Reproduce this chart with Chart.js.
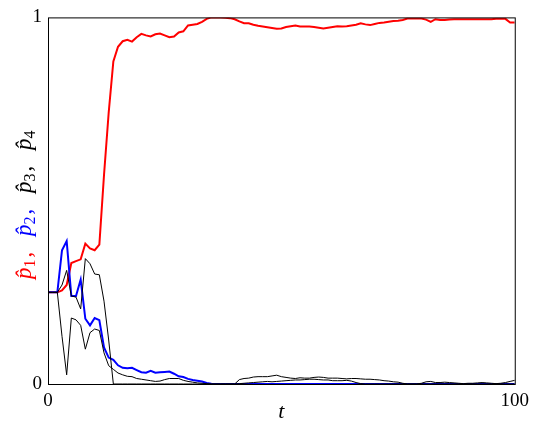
<!DOCTYPE html>
<html>
<head>
<meta charset="utf-8">
<script src="https://cdn.jsdelivr.net/npm/chart.js@4.4.1/dist/chart.umd.min.js"></script>
<style>
  html, body { margin: 0; padding: 0; background: #fff; }
  #wrap { width: 535px; height: 423px; }
</style>
</head>
<body>
<div id="wrap"><canvas id="chart" width="535" height="423"></canvas></div>
<script>
// estimated probabilities p1..p4 at t = 0..100
const p1 = [
  0.25, 0.25, 0.25, 0.255, 0.27, 0.33, 0.335, 0.34, 0.383, 0.37,
  0.365, 0.38, 0.57, 0.74, 0.88, 0.92, 0.935, 0.939, 0.934, 0.946,
  0.955, 0.951, 0.948, 0.954, 0.956, 0.951, 0.946, 0.948, 0.959, 0.962,
  0.978, 0.980, 0.982, 0.988, 0.996, 1.0, 1.0, 1.0, 0.999, 0.998,
  0.995, 0.989, 0.984, 0.984, 0.980, 0.977, 0.975, 0.973, 0.971, 0.969,
  0.970, 0.974, 0.976, 0.978, 0.975, 0.975, 0.975, 0.974, 0.972, 0.970,
  0.972, 0.974, 0.976, 0.975, 0.976, 0.978, 0.980, 0.984, 0.981, 0.979,
  0.982, 0.985, 0.986, 0.988, 0.990, 0.991, 0.993, 0.997, 0.997, 0.997,
  0.997, 0.994, 0.988, 0.995, 0.993, 0.993, 0.994, 0.995, 0.995, 0.995,
  0.995, 0.995, 0.995, 0.995, 0.995, 0.995, 0.996, 0.996, 0.996, 0.986,
  0.986
];
const p2 = [
  0.25, 0.25, 0.25, 0.365, 0.39, 0.24, 0.24, 0.285, 0.178, 0.16,
  0.18, 0.174, 0.10, 0.072, 0.066, 0.051, 0.044, 0.043, 0.044, 0.038,
  0.032, 0.031, 0.036, 0.031, 0.032, 0.033, 0.034, 0.028, 0.021, 0.019,
  0.014, 0.011, 0.009, 0.007, 0.003, 0.001, 0, 0, 0, 0,
  0, 0, 0, 0, 0, 0, 0, 0, 0, 0,
  0, 0, 0, 0, 0, 0, 0, 0, 0, 0,
  0, 0, 0, 0, 0, 0, 0, 0, 0, 0,
  0, 0, 0, 0, 0, 0, 0, 0, 0, 0,
  0, 0, 0, 0, 0, 0, 0, 0, 0, 0,
  0, 0, 0, 0, 0, 0, 0, 0, 0, 0,
  0
];
const p3 = [
  0.25, 0.25, 0.25, 0.13, 0.025, 0.18, 0.175, 0.16, 0.095, 0.14,
  0.15, 0.146, 0.085, 0.05, 0.04, 0.03, 0.025, 0.021, 0.02, 0.015,
  0.013, 0.011, 0.009, 0.007, 0.008, 0.012, 0.015, 0.015, 0.015, 0.01,
  0.007, 0.005, 0.003, 0.002, 0.001, 0, 0, 0, 0, 0,
  0, 0.001, 0.002, 0.003, 0.004, 0.005, 0.006, 0.007, 0.006, 0.007,
  0.008, 0.009, 0.010, 0.011, 0.011, 0.012, 0.013, 0.013, 0.012, 0.011,
  0.011, 0.009, 0.009, 0.009, 0.010, 0.008, 0.004, 0.001, 0, 0,
  0, 0, 0, 0, 0, 0, 0, 0, 0, 0,
  0, 0, 0, 0, 0, 0, 0, 0, 0, 0,
  0, 0, 0, 0, 0, 0, 0, 0, 0, 0,
  0
];
const p4 = [
  0.25, 0.25, 0.25, 0.27, 0.31, 0.24, 0.237, 0.205, 0.342, 0.328,
  0.30, 0.298, 0.226, 0.12, 0.0, 0, 0, 0, 0, 0,
  0, 0, 0, 0, 0, 0, 0, 0, 0, 0,
  0, 0, 0, 0, 0, 0, 0, 0, 0, 0,
  0, 0.012, 0.015, 0.016, 0.019, 0.020, 0.020, 0.020, 0.022, 0.024,
  0.020, 0.018, 0.016, 0.015, 0.017, 0.016, 0.016, 0.018, 0.019, 0.018,
  0.016, 0.016, 0.016, 0.015, 0.014, 0.015, 0.015, 0.014, 0.013, 0.013,
  0.012, 0.011, 0.009, 0.008, 0.006, 0.005, 0.002, 0, 0, 0,
  0.002, 0.006, 0.007, 0.004, 0.004, 0.005, 0.004, 0.003, 0.002, 0.001,
  0.002, 0.002, 0.003, 0.004, 0.003, 0.002, 0.001, 0.002, 0.004, 0.007,
  0.010
];
const xTicks = [0, 100];
const yTicks = [0, 1];

const serif = "'Liberation Serif', 'DejaVu Serif', serif";

// pair each value with its step index
const pts = (arr) => arr.map((v, i) => ({ x: i, y: v }));

// frame + axis titles (y title has one colour per symbol)
const decorations = {
  id: 'decorations',
  afterDraw(chart) {
    const { ctx, chartArea: a } = chart;
    ctx.save();
    ctx.strokeStyle = '#000';
    ctx.lineWidth = 1;
    ctx.strokeRect(a.left + 0.5, a.top + 0.5, a.right - a.left, a.bottom - a.top);

    ctx.fillStyle = '#000';
    ctx.font = 'italic 22px ' + serif;
    ctx.textAlign = 'center';
    ctx.textBaseline = 'alphabetic';
    ctx.fillText('t', (a.left + a.right) / 2, 418);

    const parts = [
      { sym: '1', sep: ',', color: '#ff0000' },
      { sym: '2', sep: ',', color: '#0000ff' },
      { sym: '3', sep: ',', color: '#000000' },
      { sym: '4', sep: '', color: '#000000' }
    ];
    const big = 'italic 23px ' + serif;
    const small = '16px ' + serif;
    const upright = '23px ' + serif;
    const step = 43; // distance from one p-hat to the next
    ctx.translate(31, 279);
    ctx.rotate(-Math.PI / 2);
    ctx.textAlign = 'left';
    parts.forEach((p, i) => {
      let x = i * step;
      ctx.fillStyle = p.color;
      ctx.font = big;
      ctx.fillText('p\u0302', x, 0);
      x += ctx.measureText('p\u0302').width;
      ctx.font = small;
      ctx.fillText(p.sym, x, 4);
      x += ctx.measureText(p.sym).width + 2;
      if (p.sep) {
        ctx.font = upright;
        ctx.fillText(p.sep, x, 0);
      }
    });
    ctx.restore();
  }
};

const line = (data, color, width, order) => ({
  data: pts(data),
  borderColor: color,
  borderWidth: width,
  pointRadius: 0,
  tension: 0,
  fill: false,
  order: order
});

new Chart(document.getElementById('chart'), {
  type: 'line',
  data: {
    datasets: [
      line(p1, '#ff0000', 2, 4),
      line(p2, '#0000ff', 2, 3),
      line(p3, '#000000', 1, 2),
      line(p4, '#000000', 1, 1)
    ]
  },
  options: {
    responsive: false,
    animation: false,
    events: [],
    layout: { padding: { top: 16, right: 18, left: 0, bottom: 0 } },
    plugins: { legend: { display: false }, tooltip: { enabled: false } },
    scales: {
      x: {
        type: 'linear',
        min: 0,
        max: 100,
        afterBuildTicks: (s) => { s.ticks = xTicks.map(v => ({ value: v })); },
        afterFit: (s) => { s.height = 39; },
        grid: { display: false, drawTicks: false },
        border: { display: false },
        ticks: { color: '#000', font: { family: serif, size: 19 }, padding: 6, maxRotation: 0 }
      },
      y: {
        min: 0,
        max: 1,
        afterBuildTicks: (s) => { s.ticks = yTicks.map(v => ({ value: v })); },
        afterFit: (s) => { s.width = 48; },
        grid: { display: false, drawTicks: false },
        border: { display: false },
        ticks: { color: '#000', font: { family: serif, size: 19 }, padding: 6 }
      }
    }
  },
  plugins: [decorations]
});
</script>
</body>
</html>
